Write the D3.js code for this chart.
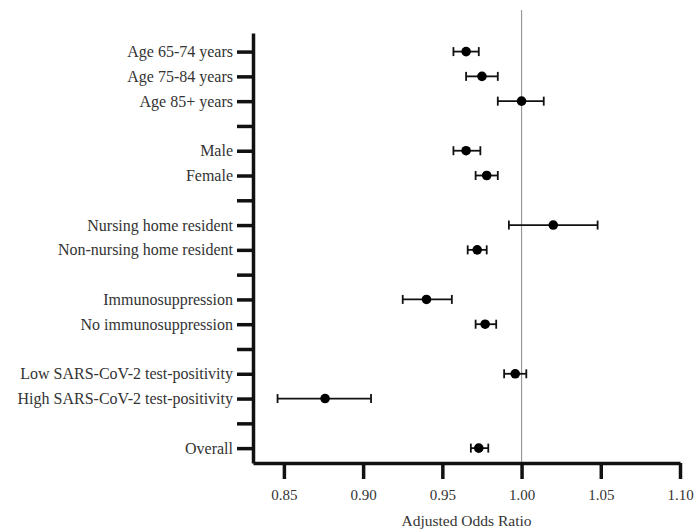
<!DOCTYPE html>
<html>
<head>
<meta charset="utf-8">
<script src="https://d3js.org/d3.v7.min.js"></script>
<style>
	body { margin: 0; background: #fff; }
	svg text { font-family: "Liberation Serif", "DejaVu Serif", serif; }
</style>
</head>
<body>
<div id="chart"></div>
<script>
	var w = 696;
	var h = 530;

	// rows of the forest plot, "" = spacer row (still has a tick)
	var labels = ["Age 65-74 years", "Age 75-84 years", "Age 85+ years", "",
		"Male", "Female", "",
		"Nursing home resident", "Non-nursing home resident", "",
		"Immunosuppression", "No immunosuppression", "",
		"Low SARS-CoV-2 test-positivity", "High SARS-CoV-2 test-positivity", "",
		"Overall"];
	// adjusted odds ratios and 95% CI, null on spacer rows
	var estimate = [0.965, 0.975, 1.000, null, 0.965, 0.978, null, 1.020, 0.972, null, 0.940, 0.977, null, 0.996, 0.876, null, 0.973];
	var lower    = [0.957, 0.965, 0.985, null, 0.957, 0.971, null, 0.992, 0.966, null, 0.925, 0.971, null, 0.989, 0.846, null, 0.968];
	var upper    = [0.973, 0.985, 1.014, null, 0.974, 0.985, null, 1.048, 0.978, null, 0.956, 0.984, null, 1.003, 0.905, null, 0.979];
	var xTicks = [0.85, 0.90, 0.95, 1.00, 1.05, 1.10];

	var font = "'Liberation Serif', 'DejaVu Serif', serif";

	var svg = d3.select("#chart").append("svg")
		.attr("width", w)
		.attr("height", h);

	var x = d3.scaleLinear().domain([0.8305, 1.10]).range([253, 680]);
	var y = d3.scaleLinear().domain([-0.75, 16.6]).range([33, 463]);

	var rows = labels.map(function(l, i) {
		return { label: l, i: i, est: estimate[i], lo: lower[i], hi: upper[i] };
	});

	// reference line at OR = 1
	svg.append("line")
		.attr("x1", x(1)).attr("x2", x(1))
		.attr("y1", 10).attr("y2", y(16.6))
		.attr("stroke", "#999").attr("stroke-width", 1.2);

	// y axis
	var yAxis = d3.axisLeft(y)
		.tickValues(d3.range(labels.length))
		.tickFormat(function(i) { return labels[i]; })
		.tickSize(16).tickSizeOuter(0).tickPadding(4);
	var gy = svg.append("g")
		.attr("transform", "translate(" + x.range()[0] + ",0)")
		.call(yAxis)
		.attr("font-family", font)
		.attr("font-size", 16);
	gy.select(".domain").attr("stroke", "#111").attr("stroke-width", 3.5);
	gy.selectAll(".tick line").attr("stroke", "#111").attr("stroke-width", 3.5);
	gy.selectAll(".tick text").attr("fill", "#333");

	// x axis
	var xAxis = d3.axisBottom(x)
		.tickValues(xTicks)
		.tickFormat(d3.format(".2f"))
		.tickSize(16).tickSizeOuter(0).tickPadding(10);
	var gx = svg.append("g")
		.attr("transform", "translate(0," + y.range()[1] + ")")
		.call(xAxis)
		.attr("font-family", font)
		.attr("font-size", 15);
	gx.select(".domain").attr("stroke", "#111").attr("stroke-width", 3.5);
	gx.selectAll(".tick line").attr("stroke", "#111").attr("stroke-width", 3.5);
	gx.selectAll(".tick text").attr("fill", "#333");

	svg.append("text")
		.attr("x", (x.range()[0] + x.range()[1]) / 2)
		.attr("y", 526)
		.attr("text-anchor", "middle")
		.attr("font-family", font)
		.attr("font-size", 15.5)
		.attr("fill", "#333")
		.text("Adjusted Odds Ratio");

	// error bars + points
	var pts = rows.filter(function(d) { return d.est !== null; });
	var g = svg.append("g").selectAll("g").data(pts).enter().append("g");
	g.append("line")
		.attr("x1", function(d) { return x(d.lo); })
		.attr("x2", function(d) { return x(d.hi); })
		.attr("y1", function(d) { return y(d.i); })
		.attr("y2", function(d) { return y(d.i); })
		.attr("stroke", "#111").attr("stroke-width", 1.8);
	["lo", "hi"].forEach(function(k) {
		g.append("line")
			.attr("x1", function(d) { return x(d[k]); })
			.attr("x2", function(d) { return x(d[k]); })
			.attr("y1", function(d) { return y(d.i) - 4.5; })
			.attr("y2", function(d) { return y(d.i) + 4.5; })
			.attr("stroke", "#111").attr("stroke-width", 1.8);
	});
	g.append("circle")
		.attr("cx", function(d) { return x(d.est); })
		.attr("cy", function(d) { return y(d.i); })
		.attr("r", 4.8)
		.attr("fill", "#000");
</script>
</body>
</html>
